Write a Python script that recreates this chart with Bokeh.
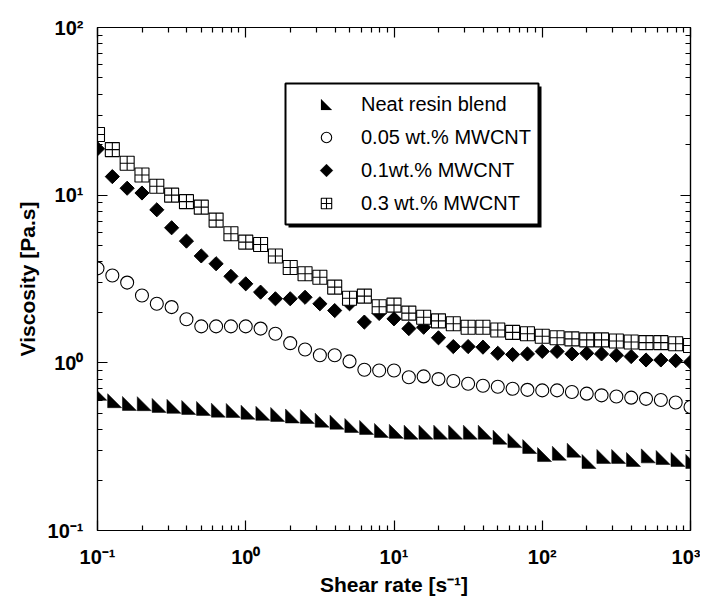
import math
from bokeh.plotting import figure
from bokeh.models import (Range1d, FixedTicker, LogAxis, CustomJSTickFormatter, Legend,
                          LegendItem, BoxAnnotation, PolyAnnotation)
from bokeh.embed import file_html
from bokeh.resources import INLINE

# ---------------- data ----------------
shear_rate = [0.1, 0.1259, 0.1585, 0.1995, 0.2512, 0.3162, 0.3981, 0.5012, 0.631, 0.7943,
              1.0, 1.259, 1.585, 1.995, 2.512, 3.162, 3.981, 5.012, 6.31, 7.943,
              10.0, 12.59, 15.85, 19.95, 25.12, 31.62, 39.81, 50.12, 63.1, 79.43,
              100.0, 125.9, 158.5, 199.5, 251.2, 316.2, 398.1, 501.2, 631.0, 794.3, 1000.0]

neat_resin = [0.637, 0.576, 0.555, 0.553, 0.540, 0.533, 0.525, 0.518, 0.506, 0.504,
              0.492, 0.484, 0.477, 0.467, 0.464, 0.441, 0.429, 0.410, 0.399, 0.383,
              0.378, 0.374, 0.374, 0.374, 0.374, 0.374, 0.374, 0.349, 0.333, 0.307,
              0.275, 0.280, 0.292, 0.250, 0.268, 0.268, 0.257, 0.270, 0.264, 0.257, 0.250]

mwcnt_005 = [3.66, 3.32, 3.01, 2.52, 2.25, 2.15, 1.82, 1.65, 1.65, 1.65,
             1.65, 1.60, 1.49, 1.31, 1.20, 1.11, 1.11, 1.02, 0.91, 0.90,
             0.90, 0.82, 0.83, 0.80, 0.78, 0.75, 0.73, 0.72, 0.70, 0.69,
             0.685, 0.685, 0.67, 0.655, 0.64, 0.63, 0.62, 0.61, 0.60, 0.58, 0.545]

mwcnt_01 = [18.9, 12.9, 11.0, 10.3, 8.18, 6.39, 5.32, 4.34, 3.90, 3.28,
            2.96, 2.64, 2.41, 2.41, 2.46, 2.25, 2.05, 2.25, 1.75, 1.97,
            1.83, 1.60, 1.63, 1.41, 1.25, 1.25, 1.24, 1.14, 1.12, 1.13,
            1.17, 1.17, 1.13, 1.14, 1.13, 1.11, 1.09, 1.04, 1.04, 1.03, 1.01]

mwcnt_03 = [23.0, 18.7, 15.5, 13.2, 11.3, 10.0, 9.15, 8.48, 7.10, 5.89,
            5.25, 5.08, 4.34, 3.70, 3.40, 3.24, 2.83, 2.43, 2.50, 2.16,
            2.21, 1.98, 1.87, 1.78, 1.71, 1.63, 1.63, 1.57, 1.52, 1.49,
            1.44, 1.41, 1.39, 1.37, 1.37, 1.35, 1.33, 1.32, 1.32, 1.30, 1.27]

series_labels = ["Neat resin blend", "0.05 wt.% MWCNT", "0.1wt.% MWCNT", "0.3 wt.% MWCNT"]

x_major = [0.1, 1, 10, 100, 1000]
y_major = [0.1, 1, 10, 100]
x_minor = [m * 10.0 ** k for k in range(-1, 3) for m in range(2, 10)]
y_minor = [m * 10.0 ** k for k in range(-1, 2) for m in range(2, 10)]

# ---------------- layout ----------------
W, H = 700, 600
BL, BR, BT, BB = 97, 10, 27, 70
FRAME_W = W - BL - BR
FRAME_H = H - BT - BB
FONT = "Liberation Sans"

p = figure(width=W, height=H, x_axis_type="log", y_axis_type="log",
           x_range=Range1d(0.1, 1000), y_range=Range1d(0.1, 100),
           output_backend="svg", toolbar_location=None,
           min_border_left=BL, min_border_right=BR, min_border_top=BT, min_border_bottom=BB)
p.xgrid.visible = False
p.ygrid.visible = False
p.outline_line_color = "black"
p.outline_line_width = 1.2
p.background_fill_color = "white"
p.border_fill_color = "white"

xt = FixedTicker(ticks=x_major, minor_ticks=x_minor)
yt = FixedTicker(ticks=y_major, minor_ticks=y_minor)

sup_code = """
const e = Math.round(Math.log10(tick));
const m = {'-':'\\u207b','0':'\\u2070','1':'\\u00b9','2':'\\u00b2','3':'\\u00b3'};
return '10' + String(e).split('').map(c => m[c]).join('');
"""


def style_axis(ax, ticker, show_labels):
    ax.ticker = ticker
    ax.axis_line_color = "black"
    ax.axis_line_width = 1.2
    ax.major_tick_line_color = "black"
    ax.minor_tick_line_color = "black"
    ax.major_tick_line_width = 1.2
    ax.minor_tick_line_width = 1.2
    ax.major_tick_in = 10
    ax.major_tick_out = 0
    ax.minor_tick_in = 5
    ax.minor_tick_out = 0
    if show_labels:
        ax.formatter = CustomJSTickFormatter(code=sup_code)
        ax.major_label_text_font = FONT
        ax.major_label_text_font_style = "bold"
        ax.major_label_text_font_size = "20px"
        ax.major_label_text_color = "black"
        ax.axis_label_text_font = FONT
        ax.axis_label_text_font_style = "bold"
        ax.axis_label_text_font_size = "21px"
        ax.axis_label_text_color = "black"
    else:
        ax.formatter = CustomJSTickFormatter(code="return '';")
        ax.major_label_text_font_size = "10px"
        ax.major_label_text_color = None
        ax.major_label_standoff = 0


style_axis(p.xaxis[0], xt, True)
style_axis(p.yaxis[0], yt, True)
p.xaxis[0].axis_label = "Shear rate [s\u207b\u00b9]"
p.yaxis[0].axis_label = "Viscosity [Pa.s]"
p.xaxis[0].major_label_standoff = 15
p.xaxis[0].axis_label_standoff = 2
p.yaxis[0].major_label_standoff = 14
p.yaxis[0].axis_label_standoff = 6

top_ax = LogAxis()
style_axis(top_ax, xt, False)
p.add_layout(top_ax, "above")
right_ax = LogAxis()
style_axis(right_ax, yt, False)
p.add_layout(right_ax, "right")

# ---------------- marks ----------------
# right-triangle markers: vertices offset (in pixels) around each data point, mapped through log space
ppx = FRAME_W / math.log10(1000 / 0.1)
ppy = FRAME_H / math.log10(100 / 0.1)
a, b = 4.7, 9.3  # centroid-based right triangle, 14 px legs
tri_xs = [[x * 10 ** (-a / ppx), x * 10 ** (-a / ppx), x * 10 ** (b / ppx)] for x in shear_rate]
tri_ys = [[y * 10 ** (b / ppy), y * 10 ** (-a / ppy), y * 10 ** (-a / ppy)] for y in neat_resin]
p.patches(tri_xs, tri_ys, fill_color="black", line_color="black", line_width=0.5)

r_c = p.scatter(shear_rate, mwcnt_005, marker="circle", size=13,
                fill_color="white", line_color="black", line_width=1.1)
r_d = p.scatter(shear_rate, mwcnt_01, marker="square", angle=math.pi / 4, size=10,
                fill_color="black", line_color="black", line_width=1)
r_s = p.scatter(shear_rate, mwcnt_03, marker="square_cross", size=14,
                fill_color="white", line_color="black", line_width=1.1)

# invisible stand-ins so the legend rows for these two series show no default glyph
r_tri_leg = p.scatter(shear_rate, neat_resin, size=1, fill_alpha=0, line_alpha=0)
r_d_leg = p.scatter(shear_rate, mwcnt_01, size=1, fill_alpha=0, line_alpha=0)

# ---------------- legend ----------------
LX, LY = 188, 306           # legend box bottom-left, screen px from frame bottom-left
PAD, GW, GH, SP, LS, LW = 8, 66, 26, 7, 2, 169
LEG_W = 2 * PAD + GW + LS + LW
LEG_H = 2 * PAD + 4 * GH + 3 * SP
SH = 3

scr = dict(left_units="screen", right_units="screen", bottom_units="screen", top_units="screen")
p.add_layout(BoxAnnotation(left=LX + SH, right=LX + LEG_W + SH, bottom=LY - SH, top=LY + LEG_H - SH,
                           fill_color="black", fill_alpha=1.0, line_color=None, **scr))
p.add_layout(BoxAnnotation(left=LX, right=LX + LEG_W, bottom=LY, top=LY + LEG_H,
                           fill_color="white", fill_alpha=1.0,
                           line_color="black", line_width=2, line_alpha=1.0, **scr))

# transparent legend (no padding is applied when it has no border/background)
legend = Legend(items=[LegendItem(label=series_labels[0], renderers=[r_tri_leg]),
                       LegendItem(label=series_labels[1], renderers=[r_c]),
                       LegendItem(label=series_labels[2], renderers=[r_d_leg]),
                       LegendItem(label=series_labels[3], renderers=[r_s])],
                location=(LX + PAD, LY + PAD), orientation="vertical", margin=0,
                padding=PAD, spacing=SP, glyph_width=GW, glyph_height=GH,
                label_height=GH, label_width=LW, label_standoff=LS,
                label_text_font=FONT, label_text_font_size="20px", label_text_color="black",
                border_line_color=None, background_fill_alpha=0.0)
p.add_layout(legend, "center")

# legend symbols for the triangle and diamond rows, at the legend glyph centres (screen px)
gx = LX + PAD + GW / 2


def row_y(k):
    return LY + LEG_H - PAD - GH / 2 - k * (GH + SP)


t, d = 5.5, 6.5
ty = row_y(0)
p.add_layout(PolyAnnotation(xs=[gx - t, gx - t, gx + t], ys=[ty + t, ty - t, ty - t],
                            xs_units="screen", ys_units="screen",
                            fill_color="black", fill_alpha=1.0, line_color="black", line_width=0.5))
dy = row_y(2)
p.add_layout(PolyAnnotation(xs=[gx, gx + d, gx, gx - d], ys=[dy + d, dy, dy - d, dy],
                            xs_units="screen", ys_units="screen",
                            fill_color="black", fill_alpha=1.0, line_color="black", line_width=0.5))

open("out.html", "w").write(file_html(p, INLINE))
